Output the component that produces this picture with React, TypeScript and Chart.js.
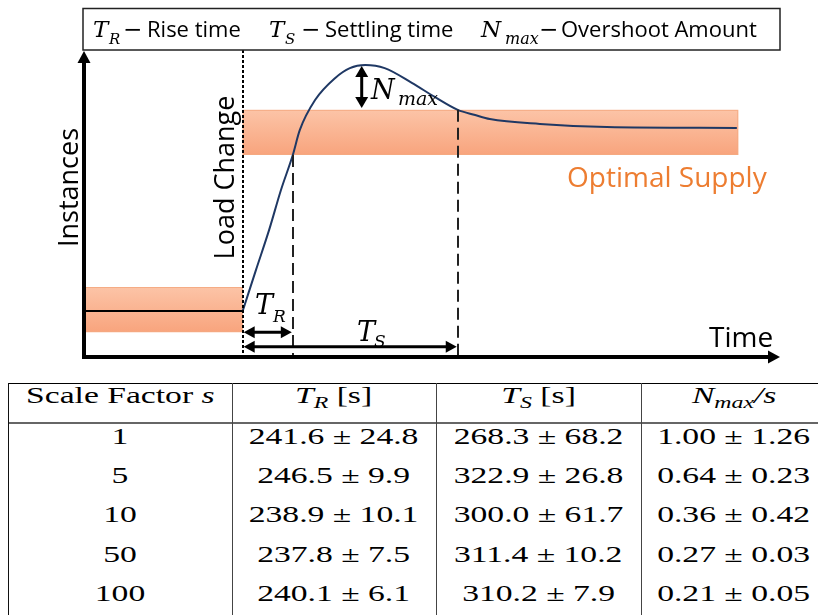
import { useEffect, useRef } from "react";
import { Chart, registerables } from "chart.js";

Chart.register(...registerables);

// ---- Diagram data (arbitrary units: time 0..100, instances 0..100) ----
const curveTime = [22.8, 24.7, 26.6, 28.3, 30.0, 31.0, 33.2, 36.1, 38.2, 40.4, 43.2, 47.1, 50.4, 53.7, 56.2, 58.3, 65.5, 75.1, 93.8];
const curveInstances = [15.0, 28.3, 41.4, 54.4, 65.8, 73.9, 83.7, 90.9, 94.1, 95.1, 94.1, 89.3, 84.7, 80.5, 78.8, 77.5, 75.9, 74.9, 74.6];
const baselineTime = [0, 22.8];
const baselineInstances = [15.0, 15.0];
const bandStart = [0, 22.8];
const bandEnd = [22.8, 94];
const bandLow = [8.1, 65.8];
const bandHigh = [22.8, 80.5];
const loadChangeTime = 22.8;
const riseTime = 30.0;
const settleTime = 53.7;
const overshootTime = 39.9;
const overshootTop = 94.8;
const overshootBottom = 81.1;
const riseArrowLevel = 8.1;
const settleArrowLevel = 3.3;

// ---- Table data ----
const scaleFactors = ["1", "5", "10", "50", "100"];
const riseMean = [241.6, 246.5, 238.9, 237.8, 240.1];
const riseStd = [24.8, 9.9, 10.1, 7.5, 6.1];
const settleMean = [268.3, 322.9, 300.0, 311.4, 310.2];
const settleStd = [68.2, 26.8, 61.7, 10.2, 7.9];
const overshootMean = [1.0, 0.64, 0.36, 0.27, 0.21];
const overshootStd = [1.26, 0.23, 0.42, 0.03, 0.05];

const SANS = '"Open Sans"';
const MATH = '"DejaVu Serif"';

function arrowHead(ctx: CanvasRenderingContext2D, tx: number, ty: number, ux: number, uy: number, len: number, hw: number) {
  const px = -uy, py = ux;
  ctx.beginPath();
  ctx.moveTo(tx, ty);
  ctx.lineTo(tx - ux * len + px * hw, ty - uy * len + py * hw);
  ctx.lineTo(tx - ux * len - px * hw, ty - uy * len - py * hw);
  ctx.closePath();
  ctx.fill();
}

function doubleArrow(ctx: CanvasRenderingContext2D, x1: number, y1: number, x2: number, y2: number, lw: number, len: number, hw: number) {
  const dx = x2 - x1, dy = y2 - y1, L = Math.hypot(dx, dy), ux = dx / L, uy = dy / L;
  ctx.lineWidth = lw;
  ctx.setLineDash([]);
  ctx.beginPath();
  ctx.moveTo(x1 + ux * len * 0.7, y1 + uy * len * 0.7);
  ctx.lineTo(x2 - ux * len * 0.7, y2 - uy * len * 0.7);
  ctx.stroke();
  arrowHead(ctx, x2, y2, ux, uy, len, hw);
  arrowHead(ctx, x1, y1, -ux, -uy, len, hw);
}

function mathLabel(ctx: CanvasRenderingContext2D, x: number, base: number, main: string, size: number, subX: number, subBase: number, sub: string, subSize: number) {
  ctx.textAlign = "left";
  ctx.textBaseline = "alphabetic";
  ctx.font = `italic ${size}px ${MATH}`;
  ctx.fillText(main, x, base);
  ctx.font = `italic ${subSize}px ${MATH}`;
  ctx.fillText(sub, subX, subBase);
}

const diagramPlugin = {
  id: "diagram",
  beforeDatasetsDraw(chart: any) {
    const { ctx, scales } = chart;
    const xs = scales.x, ys = scales.y;
    ctx.save();
    for (let i = 0; i < bandStart.length; i++) {
      const x0 = xs.getPixelForValue(bandStart[i]);
      const x1 = xs.getPixelForValue(bandEnd[i]);
      const yt = ys.getPixelForValue(bandHigh[i]);
      const yb = ys.getPixelForValue(bandLow[i]);
      const g = ctx.createLinearGradient(0, yt, 0, yb);
      g.addColorStop(0, "#FCC4A7");
      g.addColorStop(1, "#F8A47D");
      ctx.fillStyle = g;
      ctx.fillRect(x0, yt, x1 - x0, yb - yt);
      ctx.strokeStyle = "rgba(244,170,130,0.9)";
      ctx.lineWidth = 1;
      ctx.strokeRect(x0 + 0.5, yt + 0.5, x1 - x0 - 1, yb - yt - 1);
    }
    ctx.restore();
  },
  afterDatasetsDraw(chart: any) {
    const { ctx, scales, chartArea } = chart;
    const xs = scales.x, ys = scales.y;
    const ox = xs.getPixelForValue(0);
    const oy = ys.getPixelForValue(0);
    ctx.save();
    ctx.strokeStyle = "#000";
    ctx.fillStyle = "#000";

    // Load change dotted line
    const xl = xs.getPixelForValue(loadChangeTime);
    ctx.lineWidth = 2;
    ctx.setLineDash([3, 2]);
    ctx.beginPath();
    ctx.moveTo(Math.round(xl), chartArea.top);
    ctx.lineTo(Math.round(xl), oy);
    ctx.stroke();

    // Rise / settling dashed lines
    ctx.setLineDash([12, 6]);
    ctx.lineWidth = 2;
    ctx.strokeStyle = "#222";
    const xr = xs.getPixelForValue(riseTime);
    ctx.beginPath();
    ctx.moveTo(Math.round(xr), ys.getPixelForValue(bandLow[1]));
    ctx.lineTo(Math.round(xr), oy);
    ctx.stroke();
    const xsT = xs.getPixelForValue(settleTime);
    ctx.beginPath();
    ctx.moveTo(Math.round(xsT), ys.getPixelForValue(bandHigh[1]));
    ctx.lineTo(Math.round(xsT), oy);
    ctx.stroke();
    ctx.setLineDash([]);
    ctx.strokeStyle = "#000";

    // Axes
    ctx.lineWidth = 4;
    ctx.beginPath();
    ctx.moveTo(ox, oy + 2);
    ctx.lineTo(ox, chartArea.top + 10);
    ctx.stroke();
    arrowHead(ctx, ox, chartArea.top + 1, 0, -1, 12, 6.5);
    ctx.beginPath();
    ctx.moveTo(ox - 2, oy);
    ctx.lineTo(chartArea.right - 10, oy);
    ctx.stroke();
    arrowHead(ctx, chartArea.right, oy, 1, 0, 12, 6.5);

    // Arrows
    const yRA = ys.getPixelForValue(riseArrowLevel);
    doubleArrow(ctx, xl + 1, yRA, xr - 1, yRA, 3, 11, 6);
    const ySA = ys.getPixelForValue(settleArrowLevel);
    doubleArrow(ctx, xl + 1, ySA, xsT - 1, ySA, 3, 11, 6);
    const xo = xs.getPixelForValue(overshootTime);
    doubleArrow(ctx, xo, ys.getPixelForValue(overshootTop), xo, ys.getPixelForValue(overshootBottom), 3, 11, 6.5);

    // Labels
    ctx.fillStyle = "#000";
    mathLabel(ctx, 255, 314, "T", 27, 273, 322, "R", 17);
    mathLabel(ctx, 357, 341, "T", 27, 374, 347, "S", 17);
    mathLabel(ctx, 371, 99, "N", 27, 398, 105, "max", 19);

    ctx.font = `28px ${SANS}`;
    ctx.textAlign = "left";
    ctx.fillText("Time", 709, 347);
    ctx.fillStyle = "#ED7D31";
    ctx.fillText("Optimal Supply", 567, 187);

    ctx.fillStyle = "#000";
    ctx.save();
    ctx.translate(78, 187.5);
    ctx.rotate(-Math.PI / 2);
    ctx.textAlign = "center";
    ctx.font = `27px ${SANS}`;
    ctx.fillText("Instances", 0, 0);
    ctx.restore();
    ctx.save();
    ctx.translate(234, 177.5);
    ctx.rotate(-Math.PI / 2);
    ctx.textAlign = "center";
    ctx.font = `27px ${SANS}`;
    ctx.fillText("Load Change", 0, 0);
    ctx.restore();

    // Legend box
    ctx.lineWidth = 1.5;
    ctx.strokeStyle = "#222";
    ctx.strokeRect(83, 8.5, chartArea.right - 83, chartArea.top - 8.5);
    const base = 37;
    mathLabel(ctx, 93, base, "T", 23, 109, 44, "R", 15);
    mathLabel(ctx, 269, base, "T", 23, 285, 44, "S", 15);
    mathLabel(ctx, 481, base, "N", 23, 505, 44, "max", 16);
    ctx.font = `23px ${MATH}`;
    ctx.fillText("\u2212", 123, base);
    ctx.fillText("\u2212", 301, base);
    ctx.fillText("\u2212", 539, base);
    ctx.font = `22px ${SANS}`;
    ctx.fillText("Rise time", 147, base);
    ctx.fillText("Settling time", 325, base);
    ctx.fillText("Overshoot Amount", 561, base);
    ctx.restore();
  },
};

const colLeft = [8, 232, 436, 641];
const colWidth = [224, 204, 205, 186];
const SERIF = '"Liberation Serif", serif';

function Cell({ col, top, children }: { col: number; top: number; children: any }) {
  return (
    <div
      style={{
        position: "absolute",
        left: colLeft[col],
        width: colWidth[col],
        top,
        height: 24,
        lineHeight: "24px",
        textAlign: "center",
        fontFamily: SERIF,
        fontSize: 24,
        whiteSpace: "nowrap",
        color: "#000",
      }}
    >
      <span style={{ display: "inline-block", transform: "scaleX(1.4)", transformOrigin: "center" }}>{children}</span>
    </div>
  );
}

const subStyle = { fontSize: 17, position: "relative" as const, top: 5, fontStyle: "italic" as const };

export default function App() {
  const canvasRef = useRef<HTMLCanvasElement>(null);
  useEffect(() => {
    document.body.style.margin = "0";
    const chart = new Chart(canvasRef.current!, {
      type: "line",
      data: {
        datasets: [
          {
            label: "Instances",
            data: curveTime.map((t, i) => ({ x: t, y: curveInstances[i] })),
            borderColor: "#1F3864",
            borderWidth: 2,
            pointRadius: 0,
            cubicInterpolationMode: "monotone",
            fill: false,
          },
          {
            label: "Supply before",
            data: baselineTime.map((t, i) => ({ x: t, y: baselineInstances[i] })),
            borderColor: "#000",
            borderWidth: 2,
            pointRadius: 0,
            fill: false,
          },
        ],
      },
      options: {
        responsive: false,
        animation: false,
        events: [],
        layout: { padding: { left: 84, right: 38, top: 50, bottom: 18 } },
        scales: {
          x: { type: "linear", min: 0, max: 100, display: false },
          y: { type: "linear", min: 0, max: 100, display: false },
        },
        plugins: { legend: { display: false }, tooltip: { enabled: false } },
      },
      plugins: [diagramPlugin],
    } as any);
    return () => chart.destroy();
  }, []);

  const rowTops = [424, 463.2, 502.4, 541.6, 580.8];
  const line = (style: any) => <div style={{ position: "absolute", ...style }} />;

  return (
    <div style={{ position: "relative", width: 818, height: 615, overflow: "hidden", background: "#fff" }}>
      <canvas ref={canvasRef} width={818} height={375} style={{ position: "absolute", left: 0, top: 0 }} />
      {line({ left: 8, top: 382.5, width: 810, height: 1.5, background: "#000" })}
      {line({ left: 8, top: 421.5, width: 810, height: 2, background: "#666" })}
      {line({ left: 7.5, top: 383, width: 1.5, height: 232, background: "#111" })}
      {line({ left: 231.5, top: 383, width: 1.3, height: 232, background: "#444" })}
      {line({ left: 435.5, top: 383, width: 1.3, height: 232, background: "#444" })}
      {line({ left: 640.5, top: 383, width: 1.3, height: 232, background: "#444" })}
      <Cell col={0} top={383}>
        Scale Factor <i>s</i>
      </Cell>
      <Cell col={1} top={383}>
        <i>T</i>
        <span style={subStyle}>R</span> [s]
      </Cell>
      <Cell col={2} top={383}>
        <i>T</i>
        <span style={subStyle}>S</span> [s]
      </Cell>
      <Cell col={3} top={383}>
        <i>N</i>
        <span style={subStyle}>max</span>
        <i>/s</i>
      </Cell>
      {scaleFactors.map((s, i) => (
        <div key={s}>
          <Cell col={0} top={rowTops[i]}>{s}</Cell>
          <Cell col={1} top={rowTops[i]}>
            {riseMean[i].toFixed(1)} ± {riseStd[i].toFixed(1)}
          </Cell>
          <Cell col={2} top={rowTops[i]}>
            {settleMean[i].toFixed(1)} ± {settleStd[i].toFixed(1)}
          </Cell>
          <Cell col={3} top={rowTops[i]}>
            {overshootMean[i].toFixed(2)} ± {overshootStd[i].toFixed(2)}
          </Cell>
        </div>
      ))}
    </div>
  );
}
